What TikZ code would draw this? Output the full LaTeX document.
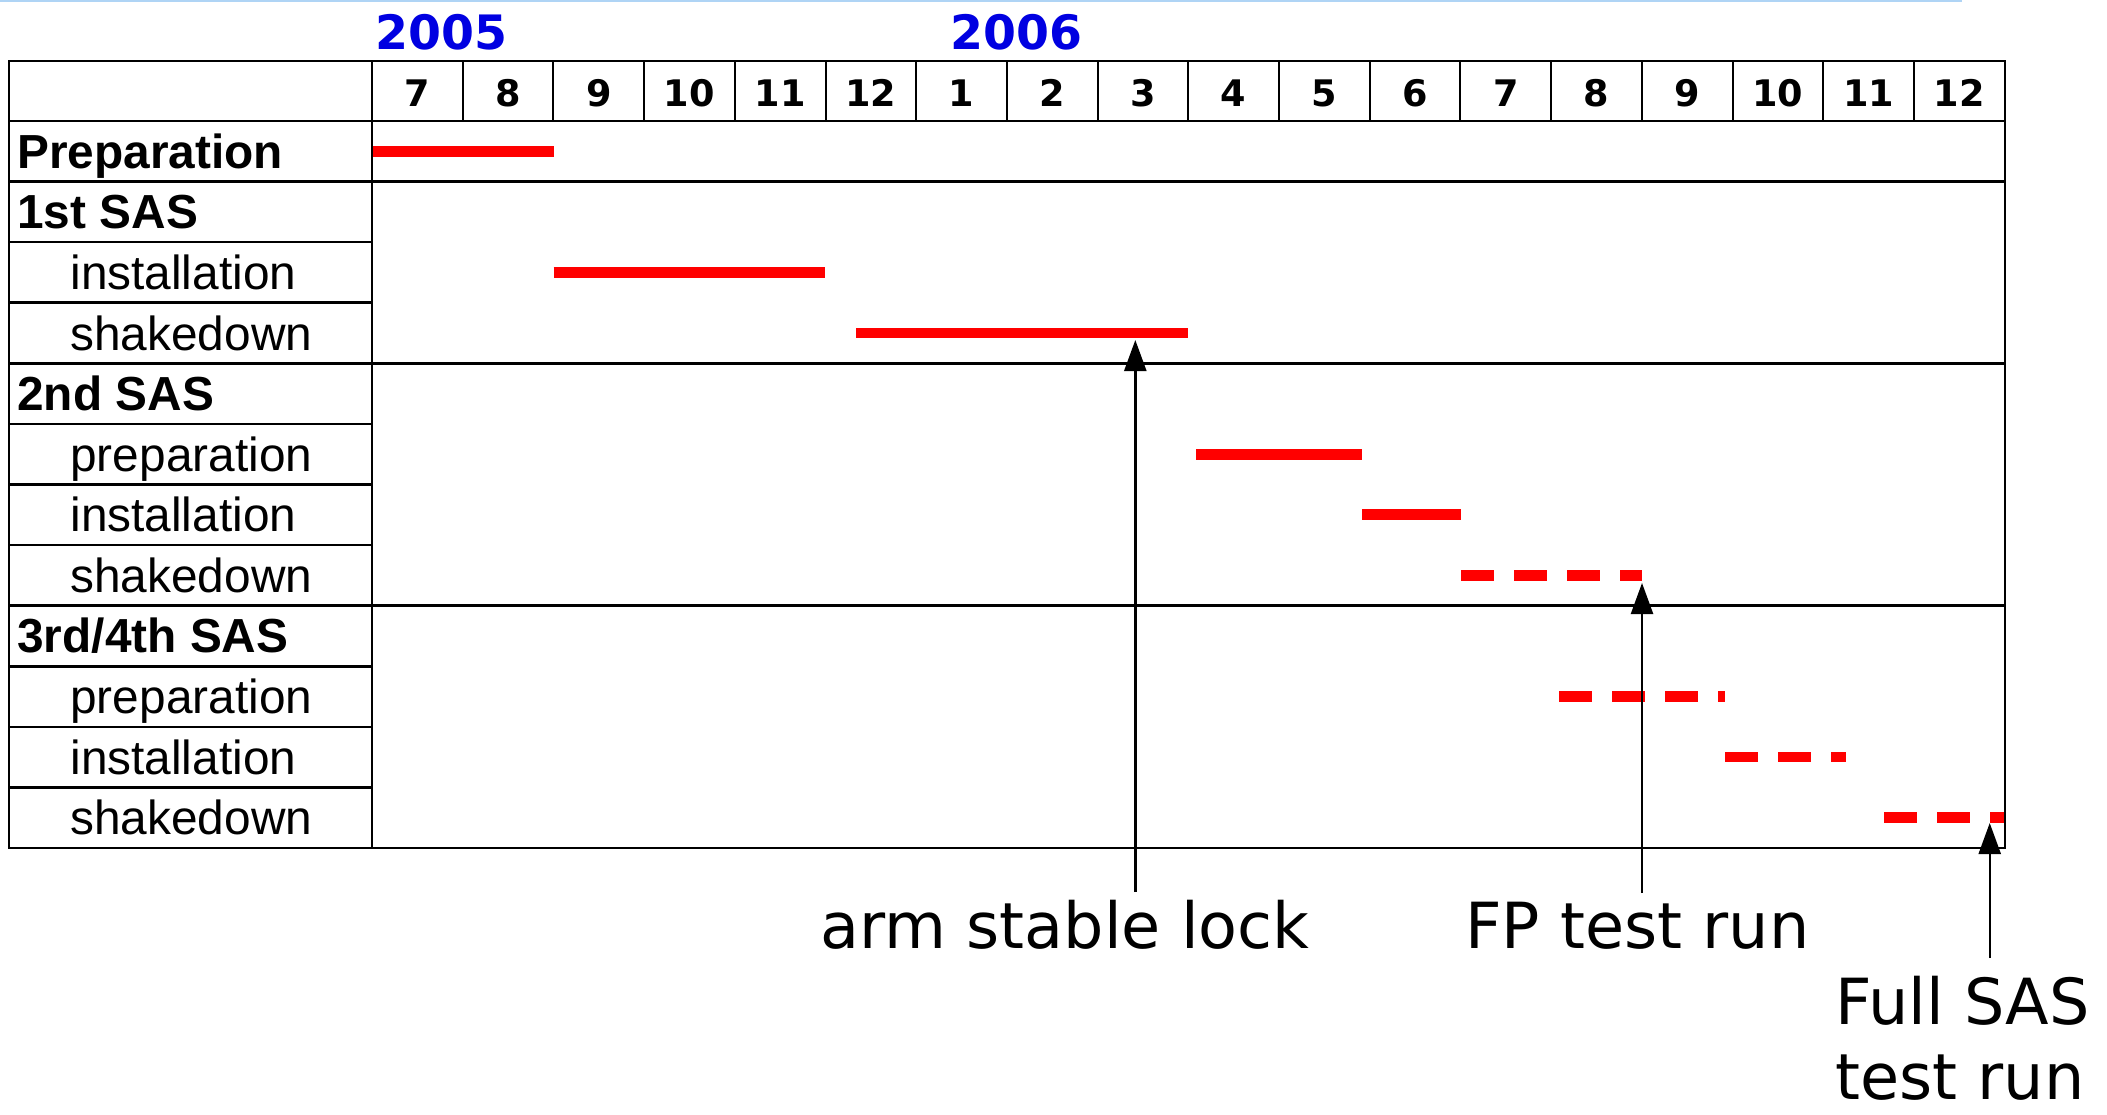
\documentclass[tikz,border=0pt]{standalone}
\usepackage{fontspec}
\setmainfont{Liberation Sans}
\newfontfamily\dvsans{DejaVu Sans}
\usetikzlibrary{arrows.meta}

\definecolor{yearblue}{RGB}{0,0,225}
\definecolor{barred}{RGB}{255,0,0}
\definecolor{rulerblue}{RGB}{175,212,245}

% geometry: 1 unit = one pixel of a 2107 x 1114 canvas, y pointing down
\def\colL{372}      % left edge of the month grid
\def\colW{90.7}     % width of one month
\def\rowT{121}      % top of the first task row
\def\rowH{60.58}    % height of one task row

\tikzset{
  gridline/.style={line width=1.3pt, black},
  monthline/.style={line width=1pt, black},
  bar/.style={line width=5.35pt, barred},
  planned/.style={bar, dash pattern=on 16.5pt off 10pt},
  month/.style={font=\dvsans\bfseries\fontsize{18.3}{20}\selectfont, anchor=base, inner sep=0pt},
  year/.style={font=\dvsans\bfseries\fontsize{23.7}{26}\selectfont, text=yearblue, anchor=base west, inner sep=0pt},
  group/.style={font=\bfseries\fontsize{23.9}{26}\selectfont, anchor=base west, inner sep=0pt},
  task/.style={font=\fontsize{23.9}{26}\selectfont, anchor=base west, inner sep=0pt},
  milestone/.style={font=\dvsans\fontsize{31.8}{37.5}\selectfont, anchor=base west, inner sep=0pt, align=left, text depth=0pt},
  pointer/.style={line width=1.2pt, -{Triangle[length=15.5pt,width=11pt]}},
}

\begin{document}
\begin{tikzpicture}[x=0.5pt,y=-0.5pt]
\useasboundingbox (0,0) rectangle (2107,1114);

% thin ruler at the top edge
\draw[rulerblue, line width=0.6pt] (0,1) -- (1962,1);

% years
\node[year] (y2005) at (375,49) {2005};
\node[year] (y2006) at (950,49) {2006};

% month numbers
\foreach \m [count=\i from 0] in {7,8,9,10,11,12,1,2,3,4,5,6,7,8,9,10,11,12}
  \node[month] (m\i) at ({\colL+\colW*(\i+0.5)},106) {\m};

% row labels: text / style / left indent
\foreach \t/\s/\x [count=\k] in {Preparation/group/17, 1st SAS/group/17, installation/task/70, shakedown/task/70,
    2nd SAS/group/17, preparation/task/70, installation/task/70, shakedown/task/70,
    3rd\slash 4th SAS/group/17, preparation/task/70, installation/task/70, shakedown/task/70}
  \node[\s] (r\k) at (\x, {\rowT+\rowH*(\k-0.5)+17}) {\t};

% activity bars
\draw[bar] (372,151.3) -- (553.6,151.3);
\draw[bar] (553.6,272.4) -- (825,272.4);
\draw[bar] (856,333) -- (1188,333);
\draw[bar] (1196,454.2) -- (1362,454.2);
\draw[bar] (1362,514.8) -- (1460.5,514.8);
\draw[planned] (1461,575.4) -- (1642,575.4);
\draw[planned] (1559,696.5) -- (1725,696.5);
\draw[planned] (1725,757.1) -- (1846,757.1);
\draw[planned] (1884,817.7) -- (2004,817.7);

% table frame
\draw[gridline] (9,61) rectangle (2005,848);
\draw[gridline] (\colL,61) -- (\colL,848);
\foreach \i in {1,...,17}
  \draw[monthline] ({\colL+\colW*\i},61) -- ({\colL+\colW*\i},\rowT);
% full-width separators
\foreach \k in {0,1,4,8}
  \draw[gridline] (9,{\rowT+\rowH*\k}) -- (2005,{\rowT+\rowH*\k});
% separators within the label column
\foreach \k in {2,3,5,6,7,9,10,11}
  \draw[gridline] (9,{\rowT+\rowH*\k}) -- (\colL,{\rowT+\rowH*\k});

% milestones (a two-line node sits on the baseline of its last line)
\node[milestone] (arm) at (820,948) {arm stable lock};
\node[milestone] (fp) at (1465,948) {FP test run};
\node[milestone] (full) at (1835,1099) {Full SAS\\test run};

\coordinate (armtip) at (1135.3,340);
\coordinate (armtail) at (1135.3,892);
\coordinate (fptip) at (1642,583);
\coordinate (fptail) at (1642,893);
\coordinate (fulltip) at (1989.7,823);
\coordinate (fulltail) at (1989.7,958);

\draw[pointer] (armtail) -- (armtip);
\draw[pointer] (fptail) -- (fptip);
\draw[pointer] (fulltail) -- (fulltip);
\end{tikzpicture}
\end{document}
